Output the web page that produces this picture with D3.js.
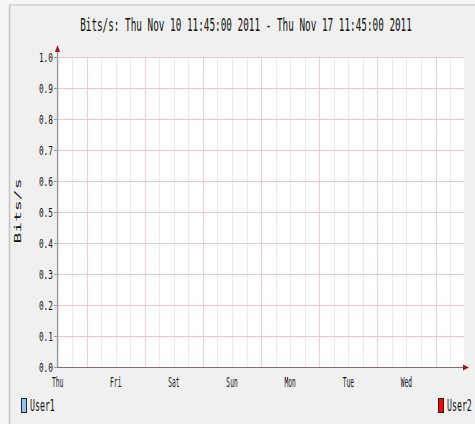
<!DOCTYPE html>
<html>
<head>
<meta charset="utf-8">
<script src="https://cdn.jsdelivr.net/npm/d3@7"></script>
<style>
html,body{margin:0;padding:0;background:#f5f5f5;}
svg{display:block;}
text{font-family:"DejaVu Sans Mono",monospace;fill:#111;}
</style>
</head>
<body>
<svg id="chart" width="475" height="424"></svg>
<script>
// ---- data ----
const titleText = "Bits/s: Thu Nov 10 11:45:00 2011 - Thu Nov 17 11:45:00 2011";
const yAxisTitle = "Bits/s";
const timeStart = "2011-11-10T11:45:00Z";
const timeEnd = "2011-11-17T11:45:00Z";
const yTicks = [0.0, 0.1, 0.2, 0.3, 0.4, 0.5, 0.6, 0.7, 0.8, 0.9, 1.0];
const dayLabels = ["Thu", "Fri", "Sat", "Sun", "Mon", "Tue", "Wed"];
const seriesNames = ["User1", "User2"];
const seriesColors = ["#8ec4f2", "#ff0000"];
// no data recorded in the period (unknown values)
const user1Values = [];
const user2Values = [];

const svg = d3.select("#chart");
const W = 475, H = 424;
const L = 57, R = 464, T = 57, B = 367;

// squeezed text helper (glyphs are horizontally condensed in the reference)
function sqText(parent, tx, ty, sx, size, anchor, str) {
  return parent.append("g").attr("transform", `translate(${tx},${ty}) scale(${sx},1)`)
    .append("text").attr("x", 0).attr("y", 0)
    .attr("text-anchor", anchor).attr("font-size", size).text(str);
}

// background and frame
svg.append("rect").attr("x", 9).attr("y", 5).attr("width", W - 9).attr("height", H - 5).attr("fill", "#f0f0f0");
svg.append("line").attr("x1", 9).attr("x2", W).attr("y1", 5).attr("y2", 5).attr("stroke", "#dadada").attr("stroke-width", 2);
svg.append("line").attr("x1", 9.5).attr("x2", 9.5).attr("y1", 5).attr("y2", H).attr("stroke", "#c4c4c4").attr("stroke-width", 1.5);

// canvas
svg.append("rect").attr("x", L).attr("y", T).attr("width", R - L).attr("height", B - T).attr("fill", "#ffffff");

const x = d3.scaleUtc().domain([new Date(timeStart), new Date(timeEnd)]).range([L, R]);
const y = d3.scaleLinear().domain([0, 1]).range([B, T]);

// minor vertical grid (6h)
const minor = d3.utcHour.every(6).range(x.domain()[0], x.domain()[1]).filter(d => d.getUTCHours() !== 0);
svg.append("g").selectAll("line").data(minor).join("line")
  .attr("x1", d => Math.round(x(d)) + 0.5).attr("x2", d => Math.round(x(d)) + 0.5)
  .attr("y1", T).attr("y2", B)
  .attr("stroke", "#e9e9e9").attr("stroke-width", 1);

// major vertical grid (midnight)
const major = d3.utcDay.range(x.domain()[0], x.domain()[1]);
svg.append("g").selectAll("line").data(major).join("line")
  .attr("x1", d => Math.round(x(d)) + 0.5).attr("x2", d => Math.round(x(d)) + 0.5)
  .attr("y1", T).attr("y2", B)
  .attr("stroke", "#f3cccc").attr("stroke-width", 1);

// horizontal grid
svg.append("g").selectAll("line").data(yTicks.slice(1)).join("line")
  .attr("x1", L).attr("x2", R)
  .attr("y1", d => Math.round(y(d)) + 0.5).attr("y2", d => Math.round(y(d)) + 0.5)
  .attr("stroke", "#f4c4c4").attr("stroke-width", 1);

// y tick marks
svg.append("g").selectAll("line").data(yTicks).join("line")
  .attr("x1", L - 3).attr("x2", L)
  .attr("y1", d => Math.round(y(d)) + 0.5).attr("y2", d => Math.round(y(d)) + 0.5)
  .attr("stroke", "#999").attr("stroke-width", 1);

// y tick labels
const gy = svg.append("g");
yTicks.forEach(d => sqText(gy, 53, y(d) + 4.5, 0.6, 13, "end", d3.format(".1f")(d)));

// day labels at noon
const noons = d3.utcDay.range(d3.utcDay.floor(x.domain()[0]), x.domain()[1]).map(d => d3.utcHour.offset(d, 12));
const gx = svg.append("g");
noons.forEach((d, i) => sqText(gx, x(d), 387, 0.45, 14, "middle", dayLabels[i]));

// axes
svg.append("line").attr("x1", L + 0.5).attr("x2", L + 0.5).attr("y1", B).attr("y2", 49)
  .attr("stroke", "#9a9a9a").attr("stroke-width", 1.2);
svg.append("line").attr("x1", L).attr("x2", R + 3).attr("y1", B + 0.5).attr("y2", B + 0.5)
  .attr("stroke", "#8a6a6a").attr("stroke-width", 1.2);
svg.append("path").attr("d", `M${L + 0.5},45 L${L - 2},52 L${L + 3},52 Z`).attr("fill", "#a01818");
svg.append("path").attr("d", `M${R + 5},${B + 0.5} L${R - 1},${B - 2.5} L${R - 1},${B + 3.5} Z`).attr("fill", "#a01818");

// series (no known values)
const line = d3.line().defined(d => d != null && !isNaN(d)).x((d, i) => x(d3.utcMinute.offset(x.domain()[0], i * 30))).y(d => y(d));
[user1Values, user2Values].forEach((vals, i) => {
  svg.append("path").datum(vals).attr("d", line).attr("fill", "none").attr("stroke", seriesColors[i]).attr("stroke-width", 1);
});

// title
sqText(svg, 246, 31, 0.55, 17, "middle", titleText);

// y axis title
svg.append("text")
  .attr("transform", "translate(21,211) scale(0.45,1) rotate(-90)")
  .attr("text-anchor", "middle")
  .attr("font-size", 18)
  .text(yAxisTitle);

// legend
const legendPos = [{bx: 21, tx: 30}, {bx: 438, tx: 447}];
seriesNames.forEach((name, i) => {
  const p = legendPos[i];
  svg.append("rect").attr("x", p.bx + 0.5).attr("y", 398.5).attr("width", 5).attr("height", 14)
    .attr("fill", seriesColors[i]).attr("stroke", "#222").attr("stroke-width", 1);
  sqText(svg, p.tx, 411, 0.55, 15, "start", name);
});
</script>
</body>
</html>
